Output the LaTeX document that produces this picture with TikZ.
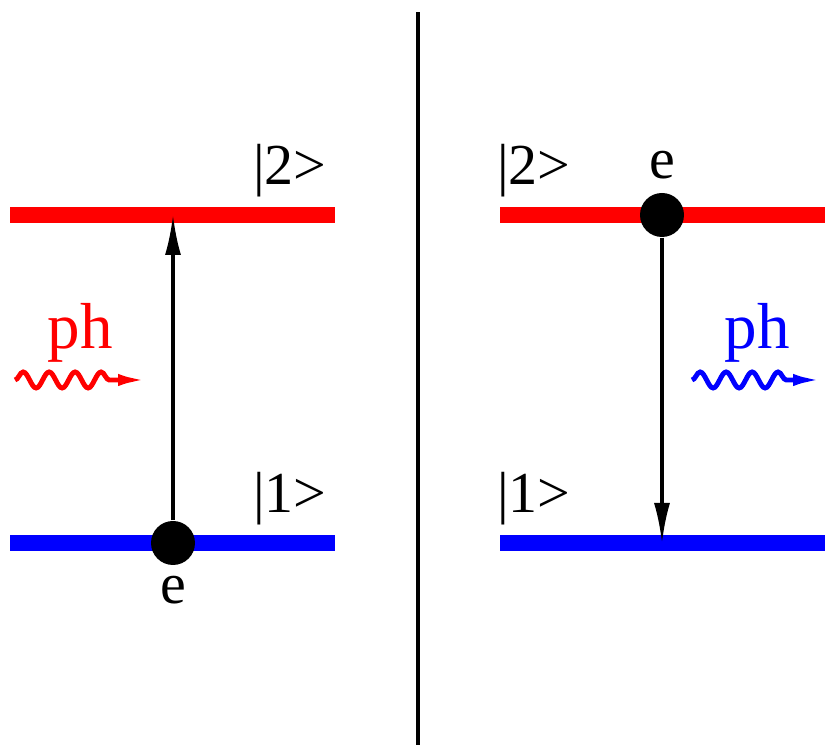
\documentclass[tikz,border=0pt]{standalone}
\usepackage{fontspec}
\setmainfont{Liberation Serif}
\usetikzlibrary{arrows.meta,decorations.pathmorphing}
\definecolor{LevelRed}{RGB}{255,0,0}
\definecolor{LevelBlue}{RGB}{0,0,255}

\begin{document}
\begin{tikzpicture}[font=\fontsize{16.5}{19}\selectfont,
level/.style={line width=4.6pt},
electron/.style={circle,fill=black,minimum size=4.4mm,inner sep=0pt},
jump/.style={line width=.9pt,-{Latex[length=4mm,width=1.6mm]}},
photon/.style={line width=1.4pt,decorate,decoration={snake,segment length=2.6mm,amplitude=.8mm}},
phtip/.style={line width=1.4pt,-{Latex[length=3mm,width=1.2mm]}},
phtext/.style={font=\fontsize{18.5}{21}\selectfont}]
\useasboundingbox (0,0) rectangle (8.25,7.45);
% divider
\coordinate (divT) at (4.18,7.33);
\coordinate (divB) at (4.18,0);
\draw[line width=.9pt] (divB) -- (divT);
% levels
\foreach \x in {0.10,5.00}{
\draw[level,LevelRed] (\x,5.30) -- ++(3.25,0);
\draw[level,LevelBlue] (\x,2.02) -- ++(3.25,0);}
\foreach \x/\n in {2.90/A,5.34/B}{
\node (up\n) at (\x,5.74) {|2>};
\node (lo\n) at (\x,2.46) {|1>};}
% absorption
\coordinate (topA) at (1.73,5.30);
\node[electron] (eA) at (1.73,2.02) {};
\draw[jump] (eA) -- (topA);
\node (labA) at (1.73,1.55) {e};
\node[phtext,LevelRed] (phA) at (0.80,4.12) {ph};
\coordinate (wA1) at (0.15,3.65);
\coordinate (wA2) at (1.19,3.65);
\coordinate (wA3) at (1.48,3.65);
\draw[photon,LevelRed] (wA1) -- (wA2);
\draw[phtip,LevelRed] (wA2) -- (wA3);
% emission
\coordinate (botB) at (6.62,2.02);
\node[electron] (eB) at (6.62,5.30) {};
\draw[jump] (eB) -- (botB);
\node (labB) at (6.62,5.80) {e};
\node[phtext,LevelBlue] (phB) at (7.57,4.12) {ph};
\coordinate (wB1) at (6.92,3.65);
\coordinate (wB2) at (7.94,3.65);
\coordinate (wB3) at (8.23,3.65);
\draw[photon,LevelBlue] (wB1) -- (wB2);
\draw[phtip,LevelBlue] (wB2) -- (wB3);
\end{tikzpicture}
\end{document}
